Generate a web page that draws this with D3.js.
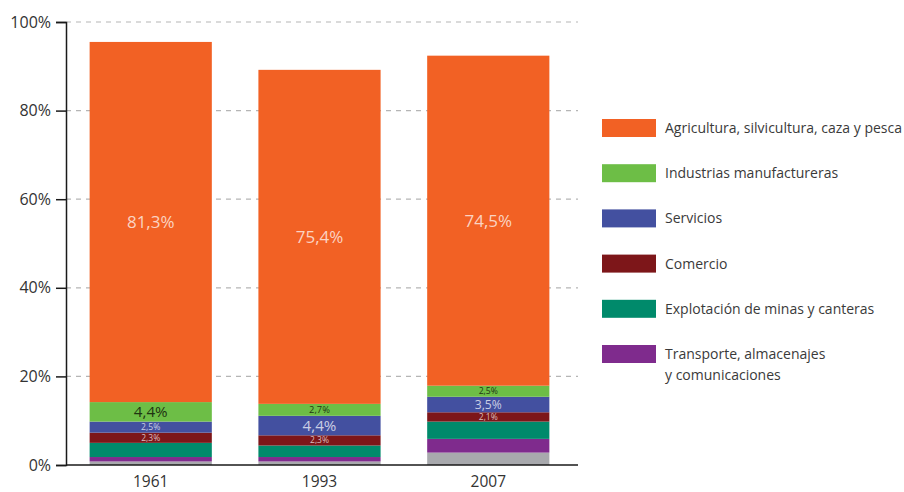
<!DOCTYPE html>
<html>
<head>
<meta charset="utf-8">
<script src="https://cdn.jsdelivr.net/npm/d3@7"></script>
<style>
  body { margin: 0; background: #fff; }
  text { font-family: "Open Sans", sans-serif; }
</style>
</head>
<body>
<div id="chart"></div>
<script>
// years on the x axis
var years = ["1961", "1993", "2007"];
// stacked from the bottom up; "otros" is the grey band with no legend entry
var sectors = ["otros", "transporte", "minas", "comercio", "servicios", "industrias", "agricultura"];
var sectorNames = {
  agricultura: ["Agricultura, silvicultura, caza y pesca"],
  industrias: ["Industrias manufactureras"],
  servicios: ["Servicios"],
  comercio: ["Comercio"],
  minas: ["Explotación de minas y canteras"],
  transporte: ["Transporte, almacenajes", "y comunicaciones"]
};
var legendOrder = ["agricultura", "industrias", "servicios", "comercio", "minas", "transporte"];
// shares in percent, one per year
var agricultura = [81.3, 75.4, 74.5];
var industrias = [4.4, 2.7, 2.5];
var servicios = [2.5, 4.4, 3.5];
var comercio = [2.3, 2.3, 2.1];
var minas = [3.2, 2.6, 3.9];
var transporte = [1.0, 1.0, 3.1];
var otros = [0.8, 0.8, 2.8];
var labelled = ["agricultura", "industrias", "servicios", "comercio"];
var yTicks = [0, 20, 40, 60, 80, 100];

var colors = {
  agricultura: "#f26124",
  industrias: "#6dbe46",
  servicios: "#4350a0",
  comercio: "#7d1619",
  minas: "#008a6b",
  transporte: "#7f2b8d",
  otros: "#a8a9ad"
};

var dim = { width: 904, height: 492, left: 66, top: 22, plotRight: 573, axisRight: 578, bottom: 465 };

var series = { agricultura: agricultura, industrias: industrias, servicios: servicios,
  comercio: comercio, minas: minas, transporte: transporte, otros: otros };
var table = years.map(function(y, i) {
  var row = { year: y };
  sectors.forEach(function(s) { row[s] = series[s][i]; });
  return row;
});
var stacked = d3.stack().keys(sectors)(table);

var x = d3.scaleBand().domain(years).range([dim.left, dim.plotRight])
    .paddingInner(0.276).paddingOuter(0.14);
var y = d3.scaleLinear().domain([0, 100]).range([dim.bottom, dim.top]);

var svg = d3.select("#chart").append("svg")
    .attr("width", dim.width)
    .attr("height", dim.height);

// dashed grid
svg.append("g").selectAll("line").data(yTicks.filter(function(d) { return d > 0; }))
  .enter().append("line")
    .attr("x1", dim.left).attr("x2", dim.axisRight)
    .attr("y1", function(d) { return y(d); }).attr("y2", function(d) { return y(d); })
    .attr("stroke", "#b5b5b5").attr("stroke-width", 1.2)
    .attr("stroke-dasharray", "5,5");

// bars
var layer = svg.append("g").selectAll("g").data(stacked).enter().append("g")
    .attr("fill", function(d) { return colors[d.key]; });
layer.selectAll("rect").data(function(d) { return d; }).enter().append("rect")
    .attr("x", function(d) { return x(d.data.year); })
    .attr("width", x.bandwidth())
    .attr("y", function(d) { return y(d[1]); })
    .attr("height", function(d) { return y(d[0]) - y(d[1]); });

// value labels, size follows the height of the segment
var fmt = function(v) { return d3.format(".1f")(v).replace(".", ",") + "%"; };
stacked.filter(function(s) { return labelled.indexOf(s.key) >= 0; }).forEach(function(s) {
  var c = colors[s.key];
  var textColor = s.key === "industrias" ? "#1f3512" : d3.interpolateRgb(c, "#fff")(0.72);
  svg.append("g").selectAll("text").data(s).enter().append("text")
    .attr("x", function(d) { return x(d.data.year) + x.bandwidth() / 2; })
    .attr("y", function(d) { return (y(d[0]) + y(d[1])) / 2; })
    .attr("dy", "0.36em")
    .attr("text-anchor", "middle")
    .attr("fill", textColor)
    .style("font-size", function(d) {
      var h = y(d[0]) - y(d[1]);
      return Math.max(8.5, Math.min(17, h * 0.78)) + "px";
    })
    .text(function(d) { return fmt(d[1] - d[0]); });
});

// y axis
var yAxis = d3.axisLeft(y).tickValues(yTicks).tickSize(10)
    .tickFormat(function(d) { return d + "%"; });
var gy = svg.append("g").attr("transform", "translate(" + dim.left + ",0)").call(yAxis);
gy.select(".domain").attr("stroke", "#1a1a1a").attr("stroke-width", 1.5);
gy.selectAll(".tick line").attr("stroke", "#1a1a1a").attr("stroke-width", 1.5);
gy.selectAll(".tick text").attr("x", -15).attr("fill", "#333")
    .style("font-size", "16px").style("font-family", "'Open Sans', sans-serif");

// x axis
svg.append("line")
    .attr("x1", dim.left).attr("x2", dim.axisRight)
    .attr("y1", dim.bottom).attr("y2", dim.bottom)
    .attr("stroke", "#1a1a1a").attr("stroke-width", 1.5);
svg.append("g").selectAll("text").data(years).enter().append("text")
    .attr("x", function(d) { return x(d) + x.bandwidth() / 2; })
    .attr("y", 481)
    .attr("dy", "0.36em")
    .attr("text-anchor", "middle")
    .attr("fill", "#333")
    .style("font-size", "15.5px")
    .text(function(d) { return d; });

// legend
var legendY = d3.scalePoint().domain(legendOrder).range([128, 354]);
var lg = svg.append("g").selectAll("g").data(legendOrder).enter().append("g")
    .attr("transform", function(d) { return "translate(602," + legendY(d) + ")"; });
lg.append("rect")
    .attr("x", 0).attr("y", -9).attr("width", 54).attr("height", 18)
    .attr("fill", function(d) { return colors[d]; });
lg.append("text")
    .attr("x", 63)
    .attr("fill", "#3a3a3a")
    .style("font-size", "14px")
    .selectAll("tspan").data(function(d) { return sectorNames[d]; }).enter().append("tspan")
    .attr("x", 63)
    .attr("y", function(d, i) { return i * 21; })
    .attr("dy", "0.36em")
    .text(function(d) { return d; });
</script>
</body>
</html>
